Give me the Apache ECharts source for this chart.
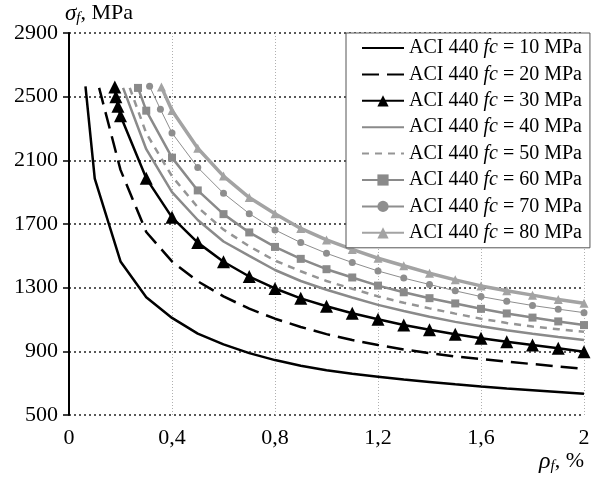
<!DOCTYPE html>
<html>
<head>
<meta charset="utf-8">
<script src="https://cdn.jsdelivr.net/npm/echarts@6/dist/echarts.min.js"></script>
<style>html,body{margin:0;padding:0;background:#fff}#c{width:600px;height:484px}</style>
</head>
<body>
<div id="c"></div>
<script>
// ---- data (rho_f in %, sigma_f in MPa) ----
const names = ['ACI 440 fc = 10 MPa','ACI 440 fc = 20 MPa','ACI 440 fc = 30 MPa','ACI 440 fc = 40 MPa',
               'ACI 440 fc = 50 MPa','ACI 440 fc = 60 MPa','ACI 440 fc = 70 MPa','ACI 440 fc = 80 MPa'];
const fcLabels = ['10','20','30','40','50','60','70','80'];

const rho10 = [0.064,0.1,0.2,0.3,0.4,0.5,0.6,0.7,0.8,0.9,1.0,1.1,1.2,1.3,1.4,1.5,1.6,1.7,1.8,1.9,2.0];
const sig10 = [2565,1985,1465,1240,1110,1011,944,889,845,810,781,759,741,723,708,693,679,667,656,645,634];

const rho20 = [0.117,0.2,0.3,0.4,0.5,0.6,0.7,0.8,0.9,1.0,1.1,1.2,1.3,1.4,1.5,1.6,1.7,1.8,1.9,2.0];
const sig20 = [2555,2040,1650,1465,1340,1245,1168,1105,1053,1008,971,940,912,888,868,852,835,820,805,790];

const rho30 = [0.178,0.182,0.19,0.2,0.3,0.4,0.5,0.6,0.7,0.8,0.9,1.0,1.1,1.2,1.3,1.4,1.5,1.6,1.7,1.8,1.9,2.0];
const sig30 = [2560,2500,2440,2380,1987,1742,1583,1463,1370,1295,1233,1183,1139,1101,1066,1036,1007,982,960,940,919,898];

const rho40 = [0.21,0.3,0.4,0.5,0.6,0.7,0.8,0.9,1.0,1.1,1.2,1.3,1.4,1.5,1.6,1.7,1.8,1.9,2.0];
const sig40 = [2555,2170,1900,1725,1590,1500,1411,1342,1287,1238,1192,1153,1117,1085,1057,1033,1011,990,971];

const rho50 = [0.236,0.3,0.4,0.5,0.6,0.7,0.8,0.9,1.0,1.1,1.2,1.3,1.4,1.5,1.6,1.7,1.8,1.9,2.0];
const sig50 = [2555,2270,2000,1805,1665,1560,1470,1403,1342,1293,1245,1205,1170,1137,1105,1078,1056,1039,1023];

const rho60 = [0.268,0.3,0.4,0.5,0.6,0.7,0.8,0.9,1.0,1.1,1.2,1.3,1.4,1.5,1.6,1.7,1.8,1.9,2.0];
const sig60 = [2555,2412,2117,1911,1762,1647,1556,1481,1416,1364,1313,1271,1234,1201,1167,1138,1112,1088,1065];

const rho70 = [0.313,0.355,0.4,0.5,0.6,0.7,0.8,0.9,1.0,1.1,1.2,1.3,1.4,1.5,1.6,1.7,1.8,1.9,2.0];
const sig70 = [2565,2421,2272,2055,1893,1765,1663,1583,1516,1458,1405,1360,1320,1280,1244,1215,1188,1165,1143];

const rho80 = [0.359,0.4,0.5,0.6,0.7,0.8,0.9,1.0,1.1,1.2,1.3,1.4,1.5,1.6,1.7,1.8,1.9,2.0];
const sig80 = [2560,2413,2176,2001,1866,1764,1672,1600,1540,1485,1438,1391,1349,1311,1281,1253,1225,1202];

const xTicks = ['0','0,4','0,8','1,2','1,6','2'];
const yTicks = [500,900,1300,1700,2100,2500,2900];

// ---- styles ----
const FONT = 'Liberation Serif';
const pair = (xs, ys) => xs.map((x, i) => [x, ys[i]]);
const styles = [
  {color:'#000000', width:2.5, type:'solid', symbol:'none'},
  {color:'#000000', width:2.5, type:[17,8], symbol:'none'},
  {color:'#000000', width:2.5, type:'solid', symbol:'triangle', size:13},
  {color:'#8a8a8a', width:2.5, type:'solid', symbol:'none'},
  {color:'#959595', width:2.5, type:[7,6], symbol:'none'},
  {color:'#8a8a8a', width:2.5, type:'solid', symbol:'rect', size:8},
  {color:'#8e8e8e', width:1, type:'solid', symbol:'circle', size:7},
  {color:'#a3a3a3', width:3.5, type:'solid', symbol:'triangle', size:9}
];
const datasets = [pair(rho10,sig10),pair(rho20,sig20),pair(rho30,sig30),pair(rho40,sig40),
                  pair(rho50,sig50),pair(rho60,sig60),pair(rho70,sig70),pair(rho80,sig80)];

const series = datasets.map((d, i) => ({
  name: names[i],
  type: 'line',
  data: d,
  symbol: styles[i].symbol,
  symbolSize: styles[i].size || 0,
  showSymbol: styles[i].symbol !== 'none',
  smooth: false,
  animation: false,
  z: 10 - i,
  lineStyle: {color: styles[i].color, width: styles[i].width, type: styles[i].type},
  itemStyle: {color: styles[i].color, borderWidth: 0}
}));

const legendData = names.map((n, i) => styles[i].symbol === 'none'
  ? {name: n, itemStyle: {opacity: 0}}
  : {name: n});

const chart = echarts.init(document.getElementById('c'), null, {renderer:'canvas'});
chart.setOption({
  animation: false,
  backgroundColor: '#ffffff',
  grid: {left: 69, right: 16, top: 33, bottom: 69, containLabel: false},
  legend: {
    data: legendData,
    orient: 'vertical',
    left: 346, top: 33,
    padding: [5, 8, 5, 15],
    backgroundColor: '#ffffff',
    borderColor: '#555555',
    borderWidth: 1,
    itemWidth: 42, itemHeight: 14, itemGap: 6.4,
    textStyle: {fontFamily: FONT, fontSize: 20, color: '#000', lineHeight: 20,
      rich: {a: {fontFamily: FONT, fontSize: 20, color:'#000'},
             i: {fontFamily: FONT, fontSize: 20, fontStyle: 'italic', color:'#000'}}},
    formatter: function (n) {
      const k = names.indexOf(n);
      return '{a|ACI 440 }{i|fc}{a| = ' + fcLabels[k] + ' MPa}';
    }
  },
  xAxis: {
    type: 'value', min: 0, max: 2, interval: 0.4,
    name: '{i|ρ}{s|f}{a|, %}',
    nameLocation: 'end', nameGap: 0,
    nameTextStyle: {align: 'right', verticalAlign: 'top', padding: [34, 0, 0, 0],
      rich: {i: {fontFamily: FONT, fontSize: 24, fontStyle: 'italic', color:'#000'},
             s: {fontFamily: FONT, fontSize: 15, fontStyle: 'italic', color:'#000', padding:[10,0,0,0]},
             a: {fontFamily: FONT, fontSize: 22, color:'#000'}}},
    axisLine: {show: false},
    axisTick: {show: false},
    axisLabel: {fontFamily: FONT, fontSize: 22, color: '#000', margin: 12,
      formatter: function (v) { const idx = Math.round(v / 0.4); return xTicks[idx]; }},
    splitLine: {show: true, lineStyle: {color: '#b0b0b0', width: 1, type: [1, 2]}}
  },
  yAxis: {
    type: 'value', min: 500, max: 2900, interval: 400,
    name: '{i|σ}{s|f}{a|, MPa}',
    nameLocation: 'end', nameGap: 7,
    nameTextStyle: {align: 'left', padding: [0, 0, 0, -4],
      rich: {i: {fontFamily: FONT, fontSize: 23, fontStyle: 'italic', color:'#000'},
             s: {fontFamily: FONT, fontSize: 15, fontStyle: 'italic', color:'#000', padding:[10,0,0,0]},
             a: {fontFamily: FONT, fontSize: 22, color:'#000'}}},
    axisLine: {show: true, lineStyle: {color: '#000', width: 2}},
    axisTick: {show: true, length: 6, lineStyle: {color: '#000', width: 1.5}},
    axisLabel: {fontFamily: FONT, fontSize: 22, color: '#000', margin: 11,
      formatter: function (v) { return yTicks.indexOf(v) >= 0 ? String(v) : ''; }},
    splitLine: {show: true, lineStyle: {color: '#222', width: 1.5, type: [2, 3]}}
  },
  series: series
});
</script>
</body>
</html>
